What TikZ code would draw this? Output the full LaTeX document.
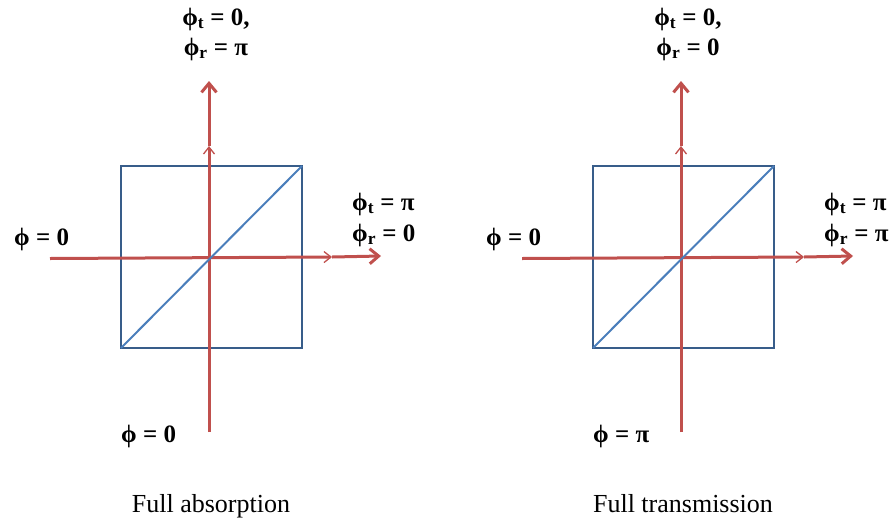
\documentclass[tikz,border=0pt]{standalone}
\usepackage{fontspec}
\setmainfont{Liberation Serif}
\usetikzlibrary{arrows.meta}
\definecolor{raycol}{HTML}{C0504D}
\definecolor{boxcol}{HTML}{385D8A}
\definecolor{diagcol}{HTML}{4A7EBB}
\tikzset{
  ray/.style={draw=raycol, line width=3pt},
  endtip/.style={-{Straight Barb[length=9pt,width=15pt]}},
  midtip/.style={-{Straight Barb[length=7pt,width=11pt,line width=1.3pt]}},
  phase/.style={font=\fontsize{25}{30}\selectfont\bfseries, inner sep=0pt},
  caption/.style={font=\fontsize{26}{30}\selectfont, inner sep=0pt}
}
\begin{document}
\begin{tikzpicture}[x=1pt,y=-1pt]
\useasboundingbox (0,0) rectangle (893,525);
\foreach \sx/\tr/\rr/\bot/\cap/\id in
  {0/π/0/0/Full absorption/a, 472/0/π/π/Full transmission/b}{
\begin{scope}[shift={(\sx,0)}]
% beam end points
\coordinate (low\id)  at (209,432);
\coordinate (vmid\id) at (209,146);
\coordinate (up\id)   at (209,81);
\coordinate (in\id)   at (50,258.5);
\coordinate (hmid\id) at (332,257);
\coordinate (out\id)  at (381,256);
% splitter
\draw[boxcol, line width=2pt] (121,166) rectangle (302,348);
% beams
\draw[ray, midtip] (low\id) -- (vmid\id);
\draw[ray, endtip] (vmid\id) -- (up\id);
\draw[ray, midtip] (in\id) -- (hmid\id);
\draw[ray, endtip] (hmid\id) -- (out\id);
\draw[diagcol, line width=2pt] (121,348) -- (302,166);
% labels
\node[phase, anchor=base] (tt\id) at (216,25) {ϕ\textsubscript{t} = 0,};
\node[phase, anchor=base] (tr\id) at (216,55) {ϕ\textsubscript{r} = \tr};
\node[phase, anchor=base west] (rt\id) at (352,210) {ϕ\textsubscript{t} = π};
\node[phase, anchor=base west] (rr\id) at (352,241) {ϕ\textsubscript{r} = \rr};
\node[phase, anchor=base west] (left\id) at (14,245) {ϕ = 0};
\node[phase, anchor=base west] (bot\id) at (121,442) {ϕ = \bot};
\node[caption, anchor=base] (cap\id) at (211,512) {\cap};
\end{scope}
}
\end{tikzpicture}
\end{document}
